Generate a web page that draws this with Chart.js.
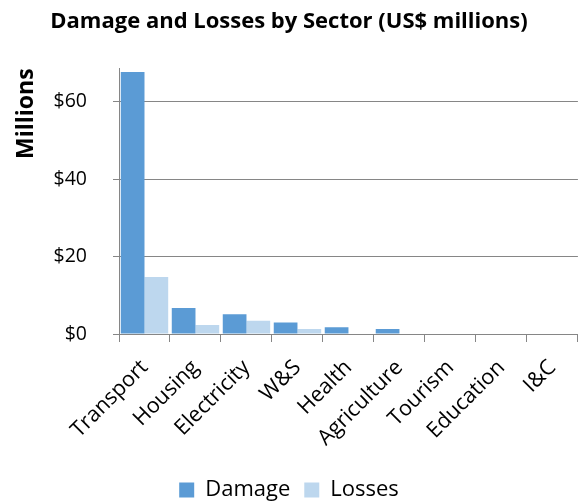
<!DOCTYPE html>
<html>
<head>
<meta charset="utf-8">
<script src="https://cdn.jsdelivr.net/npm/chart.js@4"></script>
<style>
  body { margin: 0; background: #fff; }
  #wrap { width: 584px; height: 503px; }
</style>
</head>
<body>
<div id="wrap"><canvas id="chart" width="584" height="503"></canvas></div>
<script>
const sectors = ['Transport', 'Housing', 'Electricity', 'W&S', 'Health', 'Agriculture', 'Tourism', 'Education', 'I&C'];
const damage = [67.7, 6.7, 5.1, 3.0, 1.75, 1.3, 0, 0, 0];
const losses = [14.7, 2.3, 3.4, 1.3, 0, 0, 0, 0, 0];
const yTicks = [0, 20, 40, 60];

const font = '"Open Sans", Lato, sans-serif';
const axisGray = '#868686';

new Chart(document.getElementById('chart').getContext('2d'), {
  type: 'bar',
  data: {
    labels: sectors,
    datasets: [
      { label: 'Damage', data: damage, backgroundColor: '#5B9BD5' },
      { label: 'Losses', data: losses, backgroundColor: '#BDD7EE' },
    ],
  },
  options: {
    responsive: false,
    animation: false,
    categoryPercentage: 0.93,
    barPercentage: 1,
    layout: { padding: { left: 0, right: 6, top: 0, bottom: -8 } },
    plugins: {
      title: {
        display: true,
        text: 'Damage and Losses by Sector (US$ millions)',
        color: '#000',
        font: { family: font, size: 22, weight: 'bold' },
        padding: { top: 9, bottom: 33 },
      },
      legend: {
        position: 'bottom',
        labels: {
          color: '#000',
          font: { family: font, size: 22 },
          boxWidth: 15,
          boxHeight: 15,
          padding: 14,
        },
      },
      tooltip: { enabled: false },
    },
    scales: {
      x: {
        afterFit: (scale) => { scale.height = 131; },
        grid: { display: true, drawOnChartArea: false, offset: true, color: axisGray, tickLength: 8 },
        border: { color: axisGray },
        ticks: { color: '#000', font: { family: font, size: 21.5 }, maxRotation: 45, minRotation: 45, padding: 13 },
      },
      y: {
        min: 0,
        max: 68.6,
        afterBuildTicks: (axis) => { axis.ticks = axis.ticks.filter((t) => yTicks.includes(t.value)); },
        afterFit: (scale) => { scale.width = 119; },
        grid: { color: axisGray, tickLength: 6 },
        border: { color: axisGray },
        ticks: {
          stepSize: 20,
          color: '#000',
          font: { family: font, size: 19.5 },
          padding: 26,
          callback: (v) => '$' + v,
        },
        title: {
          display: true,
          text: 'Millions',
          align: 'end',
          color: '#000',
          font: { family: font, size: 23, weight: 'bold' },
          padding: { top: 13, bottom: 0 },
        },
      },
    },
  },
});
</script>
</body>
</html>
